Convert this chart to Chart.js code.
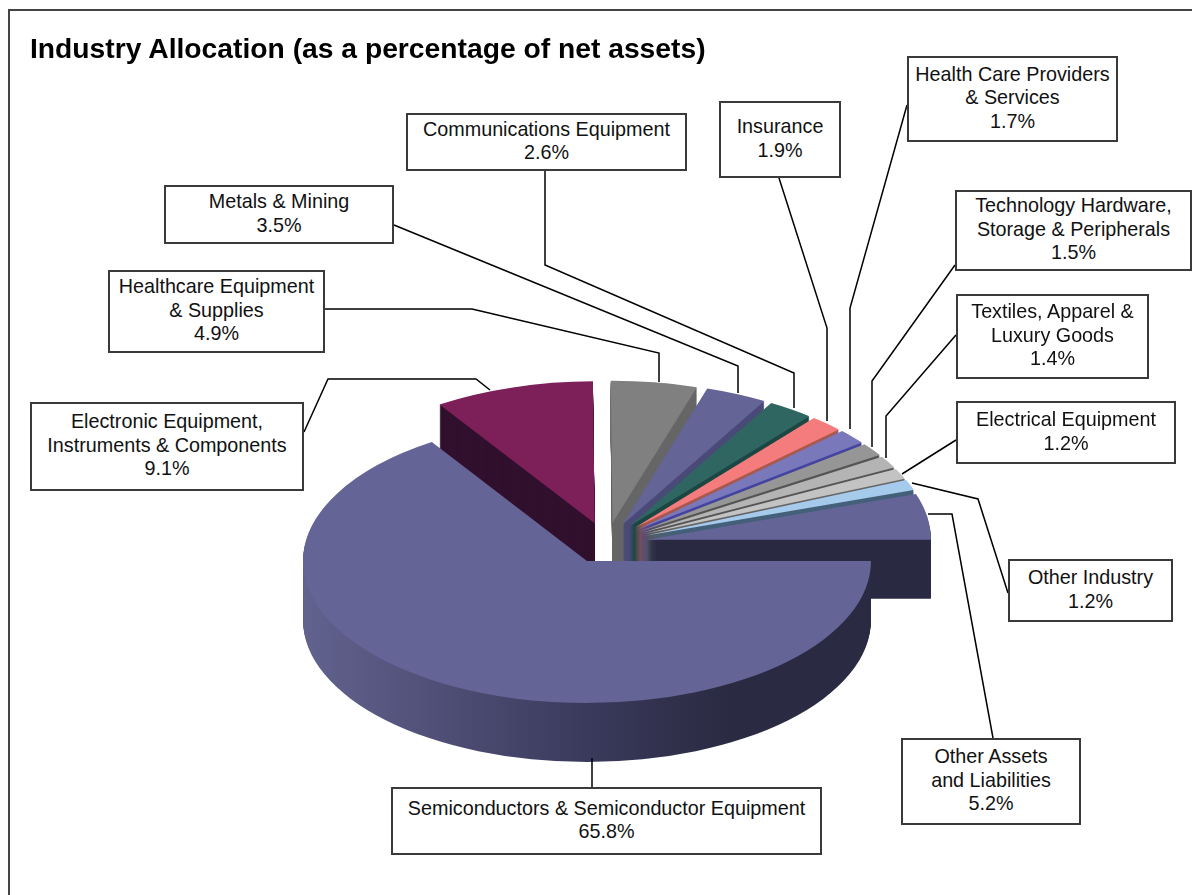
<!DOCTYPE html>
<html>
<head>
<meta charset="utf-8">
<title>Industry Allocation</title>
<script src="https://cdn.jsdelivr.net/npm/chart.js@4"></script>
<style>
  html, body { margin: 0; padding: 0; background: #fff; overflow: hidden; }
  #wrap { position: relative; width: 1192px; height: 895px; font-family: "Liberation Sans", Arial, sans-serif; color: #000; }
  #frame { position: absolute; left: 8px; top: 9px; right: -10px; bottom: -10px; border: 2px solid #444; }
  #title { position: absolute; left: 30px; top: 31px; font-size: 28.25px; font-weight: bold; line-height: 34px; white-space: nowrap; }
  #pie { position: absolute; left: 0; top: 0; }
  .box { position: absolute; box-sizing: border-box; background: #fff; border: 2px solid #3a3a3a; padding-bottom: 2px; display: flex; align-items: center; justify-content: center; text-align: center; font-size: 19.75px; line-height: 23.5px; white-space: pre-line; color: #111; }
</style>
</head>
<body>
<div id="wrap">
  <div id="frame"></div>
  <canvas id="pie" width="1192" height="895"></canvas>
  <div id="title">Industry Allocation (as a percentage of net assets)</div>
</div>
<script>
// Data, clockwise from 3 o'clock
const categories = [
  'Semiconductors & Semiconductor Equipment',
  'Electronic Equipment,\nInstruments & Components',
  'Healthcare Equipment\n& Supplies',
  'Metals & Mining',
  'Communications Equipment',
  'Insurance',
  'Health Care Providers\n& Services',
  'Technology Hardware,\nStorage & Peripherals',
  'Textiles, Apparel &\nLuxury Goods',
  'Electrical Equipment',
  'Other Industry',
  'Other Assets\nand Liabilities'
];
const values = [65.8, 9.1, 4.9, 3.5, 2.6, 1.9, 1.7, 1.5, 1.4, 1.2, 1.2, 5.2];

// Slice colours (top face, then the side wall)
const topColors = ['#646496', '#7d2059', '#808080', '#646496', '#2f6661', '#f47c7c', '#7878bb', '#969696', '#b4b4b4', '#c3c3c3', '#a6caec', '#646496'];
const wallColors = ['#2a2a42', '#31102e', '#666666', '#4a4a78', '#1d4744', '#a85a50', '#4444a0', '#555555', '#555555', '#666666', '#44607a', '#2a2a42'];

// Label boxes: left, top, right, bottom
const boxes = [
  [391, 787, 822, 855], [30, 402, 304, 491], [108, 270, 325, 353], [164, 185, 394, 244],
  [406, 113, 687, 171], [719, 101, 841, 178], [907, 56, 1118, 142], [955, 190, 1192, 271],
  [956, 294, 1149, 379], [956, 401, 1176, 464], [1008, 559, 1173, 622], [901, 738, 1081, 825]
];

// Leader lines from box to slice
const leaders = [
  [[592, 787], [592, 758]],
  [[304, 432], [328, 379], [476, 379], [490, 390]],
  [[325, 309], [472, 309], [659, 353], [659, 382]],
  [[394, 225], [738, 366], [738, 393]],
  [[545, 171], [545, 265], [794, 373], [794, 408]],
  [[779, 178], [827, 328], [827, 421]],
  [[907, 105], [850, 308], [850, 429]],
  [[955, 265], [872, 381], [872, 447]],
  [[956, 335], [886, 416], [886, 458]],
  [[956, 440], [902, 474]],
  [[1008, 593], [978, 499], [912, 483]],
  [[993, 738], [952, 514], [928, 514]]
];

const squash = 0.5;      // vertical tilt of the pie
const depth = 59;        // wall height
const explode = 41;      // slice pull-out

// Side walls + top faces, back slices first and the big slice last
const pie3d = {
  id: 'pie3d',
  beforeDatasetsDraw(chart) {
    const ctx = chart.ctx;
    const arcs = chart.getDatasetMeta(0).data;
    const cx = arcs[0].x, cy = arcs[0].y;
    ctx.save();
    ctx.translate(cx, cy);
    ctx.scale(1, squash);
    ctx.translate(-cx, -cy);
    for (let n = 1; n <= arcs.length; n++) {
      const i = n % arcs.length;
      const arc = arcs[i];
      const mid = (arc.startAngle + arc.endAngle) / 2;
      ctx.save();
      ctx.translate(Math.cos(mid) * explode, Math.sin(mid) * explode);
      if (i === 0) {
        const grad = ctx.createLinearGradient(arc.x - arc.outerRadius, 0, arc.x + arc.outerRadius, 0);
        grad.addColorStop(0, '#62628f');
        grad.addColorStop(0.5, '#3a3a5c');
        grad.addColorStop(0.75, '#2a2a42');
        grad.addColorStop(1, '#2a2a42');
        ctx.fillStyle = grad;
      } else {
        ctx.fillStyle = wallColors[i];
      }
      for (let d = depth; d > 0; d--) {
        const y = arc.y + d / squash;
        ctx.beginPath();
        ctx.moveTo(arc.x, y);
        ctx.arc(arc.x, y, arc.outerRadius, arc.startAngle, arc.endAngle);
        ctx.closePath();
        ctx.fill();
      }
      arc.draw(ctx);
      ctx.restore();
    }
    ctx.restore();
    return false; // we already drew the slices
  },
  afterDraw(chart) {
    const ctx = chart.ctx;
    ctx.save();
    ctx.strokeStyle = '#000';
    ctx.lineWidth = 1.5;
    leaders.forEach(pts => {
      ctx.beginPath();
      pts.forEach((p, i) => i ? ctx.lineTo(p[0], p[1]) : ctx.moveTo(p[0], p[1]));
      ctx.stroke();
    });
    ctx.restore();
  }
};

new Chart(document.getElementById('pie').getContext('2d'), {
  type: 'pie',
  data: {
    labels: categories,
    datasets: [{
      data: values,
      backgroundColor: topColors,
      borderWidth: 0
    }]
  },
  options: {
    responsive: false,
    animation: false,
    rotation: 90,
    radius: 284,
    layout: { padding: { left: 21, top: 191 } }, // puts the pie centre at 606.5,543
    plugins: {
      legend: { display: false },
      tooltip: { enabled: false }
    }
  },
  plugins: [pie3d]
});

// Label boxes as real text
const wrap = document.getElementById('wrap');
categories.forEach((name, i) => {
  const b = boxes[i];
  const div = document.createElement('div');
  div.className = 'box';
  div.style.left = b[0] + 'px';
  div.style.top = b[1] + 'px';
  div.style.width = (b[2] - b[0]) + 'px';
  div.style.height = (b[3] - b[1]) + 'px';
  div.textContent = name + '\n' + values[i].toFixed(1) + '%';
  wrap.appendChild(div);
});
</script>
</body>
</html>
